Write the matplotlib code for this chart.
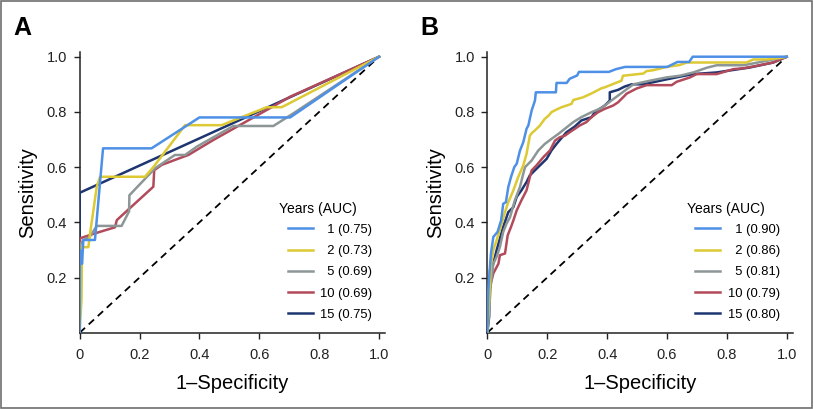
import matplotlib
matplotlib.use('Agg')
import matplotlib.pyplot as plt
from matplotlib.patches import Rectangle

plt.rcParams['font.family'] = ['Liberation Sans', 'DejaVu Sans']

# legend labels
years = ['1', '2', '5', '10', '15']
auc_a = ['0.75', '0.73', '0.69', '0.69', '0.75']
auc_b = ['0.90', '0.86', '0.81', '0.79', '0.80']
colors = ['#4d90e6', '#dcc933', '#8d9696', '#b14a5b', '#1d3570']

# panel A: ROC points (1-specificity, sensitivity)
a_fpr_1 = [0, 0.001, 0.008, 0.012, 0.051, 0.078, 0.24, 0.40, 0.703, 1.0]
a_tpr_1 = [0, 0.30, 0.25, 0.336, 0.336, 0.668, 0.668, 0.780, 0.780, 1.0]
a_fpr_2 = [0, 0.006, 0.008, 0.029, 0.034, 0.057, 0.068, 0.218, 0.246, 0.352, 0.474, 0.625, 0.675, 1.0]
a_tpr_2 = [0, 0.12, 0.31, 0.31, 0.354, 0.529, 0.565, 0.565, 0.60, 0.752, 0.752, 0.817, 0.817, 1.0]
a_fpr_5 = [0, 0.002, 0.012, 0.034, 0.057, 0.14, 0.165, 0.166, 0.252, 0.318, 0.352, 0.391, 0.513, 0.647, 0.714, 1.0]
a_tpr_5 = [0, 0.32, 0.335, 0.348, 0.387, 0.387, 0.44, 0.498, 0.596, 0.644, 0.644, 0.674, 0.749, 0.749, 0.795, 1.0]
a_fpr_10 = [0, 0.0, 0.001, 0.051, 0.118, 0.124, 0.246, 0.249, 0.274, 0.318, 0.363, 0.446, 0.625, 0.703, 1.0]
a_tpr_10 = [0, 0.24, 0.342, 0.36, 0.382, 0.408, 0.529, 0.589, 0.608, 0.626, 0.644, 0.698, 0.807, 0.855, 1.0]
a_fpr_15 = [0, 0, 1.0]
a_tpr_15 = [0, 0.507, 1.0]

# panel B
b_fpr_1 = [0, 0.003, 0.006, 0.012, 0.02, 0.034, 0.046, 0.053, 0.062, 0.07, 0.079, 0.09, 0.098, 0.109,
           0.12, 0.131, 0.137, 0.148, 0.159, 0.162, 0.229, 0.231, 0.265, 0.275, 0.30, 0.306, 0.406,
           0.43, 0.46, 0.601, 0.635, 0.674, 0.686, 1.0]
b_tpr_1 = [0, 0.15, 0.20, 0.287, 0.347, 0.365, 0.407, 0.467, 0.473, 0.528, 0.564, 0.60, 0.612, 0.66,
           0.69, 0.739, 0.751, 0.805, 0.841, 0.871, 0.871, 0.905, 0.905, 0.92, 0.932, 0.945, 0.945,
           0.955, 0.963, 0.963, 0.981, 0.981, 1.0, 1.0]
b_fpr_2 = [0, 0.006, 0.012, 0.02, 0.031, 0.046, 0.057, 0.07, 0.087, 0.103, 0.12, 0.131, 0.142, 0.15,
           0.159, 0.175, 0.192, 0.205, 0.214, 0.23, 0.248, 0.281, 0.287, 0.32, 0.348, 0.38, 0.392,
           0.42, 0.448, 0.453, 0.521, 0.532, 0.554, 0.599, 0.643, 0.666, 0.866, 0.888, 0.933, 0.98, 1.0]
b_tpr_2 = [0, 0.118, 0.25, 0.30, 0.335, 0.389, 0.431, 0.473, 0.516, 0.564, 0.606, 0.648, 0.714, 0.725,
           0.733, 0.75, 0.775, 0.787, 0.799, 0.808, 0.817, 0.829, 0.843, 0.853, 0.867, 0.885, 0.889,
           0.901, 0.913, 0.931, 0.939, 0.948, 0.951, 0.963, 0.97, 0.979, 0.979, 0.99, 0.99, 0.996, 1.0]
b_fpr_5 = [0, 0.006, 0.012, 0.02, 0.031, 0.042, 0.053, 0.064, 0.076, 0.092, 0.109, 0.12, 0.126, 0.148,
           0.17, 0.192, 0.214, 0.237, 0.259, 0.287, 0.314, 0.348, 0.381, 0.414, 0.459, 0.488, 0.543,
           0.599, 0.643, 0.688, 0.733, 0.766, 0.855, 0.933, 1.0]
b_tpr_5 = [0, 0.082, 0.178, 0.25, 0.275, 0.311, 0.365, 0.395, 0.419, 0.48, 0.528, 0.576, 0.60, 0.624,
           0.66, 0.684, 0.702, 0.72, 0.739, 0.763, 0.781, 0.799, 0.814, 0.841, 0.877, 0.9, 0.913,
           0.925, 0.931, 0.943, 0.96, 0.969, 0.969, 0.985, 1.0]
b_fpr_10 = [0, 0.006, 0.02, 0.037, 0.042, 0.059, 0.068, 0.079, 0.087, 0.098, 0.114, 0.131, 0.142, 0.148,
            0.164, 0.187, 0.209, 0.226, 0.242, 0.259, 0.276, 0.309, 0.331, 0.348, 0.37, 0.392, 0.42,
            0.437, 0.459, 0.465, 0.499, 0.532, 0.616, 0.632, 0.677, 0.699, 0.766, 0.822, 0.855, 0.9,
            0.955, 1.0]
b_tpr_10 = [0, 0.154, 0.215, 0.25, 0.281, 0.287, 0.353, 0.383, 0.407, 0.443, 0.48, 0.516, 0.564, 0.588,
            0.606, 0.636, 0.66, 0.696, 0.708, 0.714, 0.727, 0.751, 0.763, 0.781, 0.799, 0.811, 0.823,
            0.835, 0.859, 0.866, 0.885, 0.897, 0.897, 0.909, 0.925, 0.937, 0.937, 0.955, 0.958, 0.967,
            0.979, 1.0]
b_fpr_15 = [0, 0.006, 0.009, 0.02, 0.031, 0.053, 0.07, 0.087, 0.098, 0.114, 0.131, 0.142, 0.153, 0.198,
            0.214, 0.231, 0.264, 0.292, 0.314, 0.348, 0.359, 0.392, 0.409, 0.409, 0.437, 0.459, 0.482,
            0.521, 0.599, 0.654, 0.688, 0.766, 0.877, 0.955, 1.0]
b_tpr_15 = [0, 0.058, 0.227, 0.25, 0.299, 0.383, 0.437, 0.455, 0.492, 0.516, 0.546, 0.57, 0.582, 0.63,
            0.66, 0.684, 0.726, 0.747, 0.769, 0.781, 0.799, 0.823, 0.841, 0.871, 0.88, 0.892, 0.9,
            0.9, 0.918, 0.93, 0.937, 0.943, 0.961, 0.979, 1.0]

panels = [
    ('A', [(a_fpr_1, a_tpr_1), (a_fpr_2, a_tpr_2), (a_fpr_5, a_tpr_5), (a_fpr_10, a_tpr_10),
           (a_fpr_15, a_tpr_15)], auc_a, 0.0979),
    ('B', [(b_fpr_1, b_tpr_1), (b_fpr_2, b_tpr_2), (b_fpr_5, b_tpr_5), (b_fpr_10, b_tpr_10),
           (b_fpr_15, b_tpr_15)], auc_b, 0.5987),
]

fig = plt.figure(figsize=(8.14, 4.09), dpi=100)

for letter, curves, aucs, left in panels:
    ax = fig.add_axes([left, 0.1865, 0.3755, 0.687])
    ax.plot([0, 1], [0, 1], color='black', lw=1.3, dashes=(4, 2.8), zorder=1)
    for i, (fpr, tpr) in enumerate(curves):
        lab = years[i] + ' (' + aucs[i] + ')'
        if len(years[i]) == 1:
            lab = '  ' + lab
        ax.plot(fpr, tpr, color=colors[i], lw=1.8, label=lab, zorder=10 - i)

    ax.set_xlim(0, 1.021)
    ax.set_ylim(0, 1.018)
    ax.set_xticks([0, 0.2, 0.4, 0.6, 0.8, 1.0])
    ax.set_xticklabels(['0', '0.2', '0.4', '0.6', '0.8', '1.0'])
    ax.set_yticks([0.2, 0.4, 0.6, 0.8, 1.0])
    ax.set_yticklabels(['0.2', '0.4', '0.6', '0.8', '1.0'])
    ax.tick_params(direction='out', length=4, width=1.0, labelsize=10.5, colors='#222222')
    ax.tick_params(axis='x', pad=7)
    ax.tick_params(axis='y', pad=5)
    for s in ['top', 'right']:
        ax.spines[s].set_visible(False)
    for s in ['left', 'bottom']:
        ax.spines[s].set_linewidth(1.1)
        ax.spines[s].set_color('#222222')
    ax.set_xlabel('1\u2013Specificity', fontsize=14.5, labelpad=9)
    ax.set_ylabel('Sensitivity', fontsize=14.5, labelpad=7)

    ax.legend(loc='lower right', bbox_to_anchor=(0.984, 0.014), frameon=False,
              fontsize=9.4, handlelength=1.92, handletextpad=0.58, labelspacing=0.7,
              borderaxespad=0.2)
    ax.text(0.652, 0.44, 'Years (AUC)', transform=ax.transAxes, fontsize=10,
            ha='left', va='center')

    fig.text(left - 0.082, 0.962, letter, fontsize=18, fontweight='bold', va='top', ha='left')

fig.add_artist(Rectangle((0.001, 0.002), 0.997, 0.996, transform=fig.transFigure,
                         fill=False, edgecolor='#6e6e6e', lw=1.2))

fig.savefig('out.png', dpi=100)
